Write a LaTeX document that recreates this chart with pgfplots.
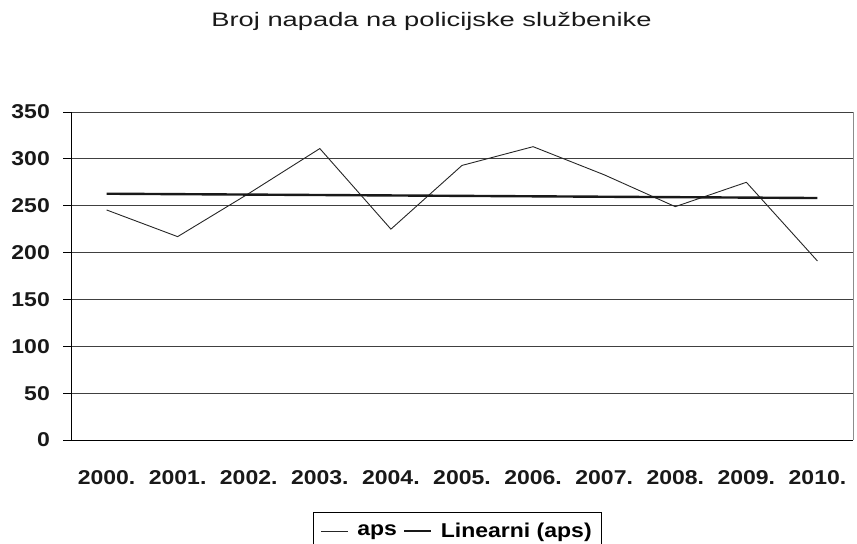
\documentclass[border=0pt]{standalone}
\usepackage{fontspec}
\setmainfont{Liberation Sans}[FakeStretch=1.15]
\newfontfamily\titlefont{Liberation Sans}[FakeStretch=1.40]
\usepackage{pgfplots}
\pgfplotsset{compat=1.18}
\begin{document}
\begin{tikzpicture}
\useasboundingbox (-71bp,-104bp) rectangle (786bp,440bp);
\begin{axis}[
  scale only axis,
  width=782bp, height=328bp,
  at={(0,0)}, anchor=south west,
  xmin=-0.5, xmax=10.5,
  ymin=0, ymax=350,
  axis lines*=left,
  axis line style={black, line width=0.9bp},
  xtick={0,...,10},
  xticklabels={2000.,2001.,2002.,2003.,2004.,2005.,2006.,2007.,2008.,2009.,2010.},
  xtick style={draw=none},
  minor xtick={-0.5,0.5,...,10.5},
  minor tick length=8bp,
  major tick length=8bp,
  tick align=outside,
  tick style={black, line width=0.8bp},
  ytick={0,50,...,350},
  yticklabels={0,50,100,150,200,250,300,350},
  ymajorgrids,
  grid style={black!75, line width=0.9bp},
  /pgf/number format/assume math mode=true,
  ticklabel style={font=\bfseries\fontsize{20bp}{24bp}\selectfont, text=black!90},
  xticklabel style={anchor=north, inner sep=0pt, yshift=-22bp},
  yticklabel style={anchor=east, inner sep=0pt, xshift=-13bp},
  legend style={at={(0.3095,-0.2186)}, anchor=north west, draw=black, line width=0.9bp,
    legend columns=2, font=\bfseries\fontsize{20bp}{24bp}\selectfont,
    inner xsep=7.5bp, inner ysep=9bp,
    /tikz/every odd column/.append style={column sep=6.5bp},
    /tikz/every even column/.append style={column sep=4bp}},
  legend image code/.code={\draw[#1] (0bp,0bp) -- (27bp,0bp);},
  clip=false,
]
\addplot[black!85, line width=0.9bp] coordinates {
  (0,245.5) (1,217) (2,263) (3,311) (4,225) (5,293) (6,313) (7,283) (8,249) (9,275) (10,191)
};
\addlegendentry{aps}
\addplot[black!90, line width=2.4bp] coordinates {
  (0,262.8) (10,258.2)
};
\addlegendentry{Linearni (aps)}
\draw[black!45, line width=0.9bp] (rel axis cs:1,0) -- (rel axis cs:1,1);
\end{axis}
\node[anchor=base, font=\titlefont\fontsize{19.5bp}{23bp}\selectfont, text=black!90, inner sep=0pt] at (360.5bp,413.3bp) {Broj napada na policijske službenike};
\end{tikzpicture}
\end{document}
